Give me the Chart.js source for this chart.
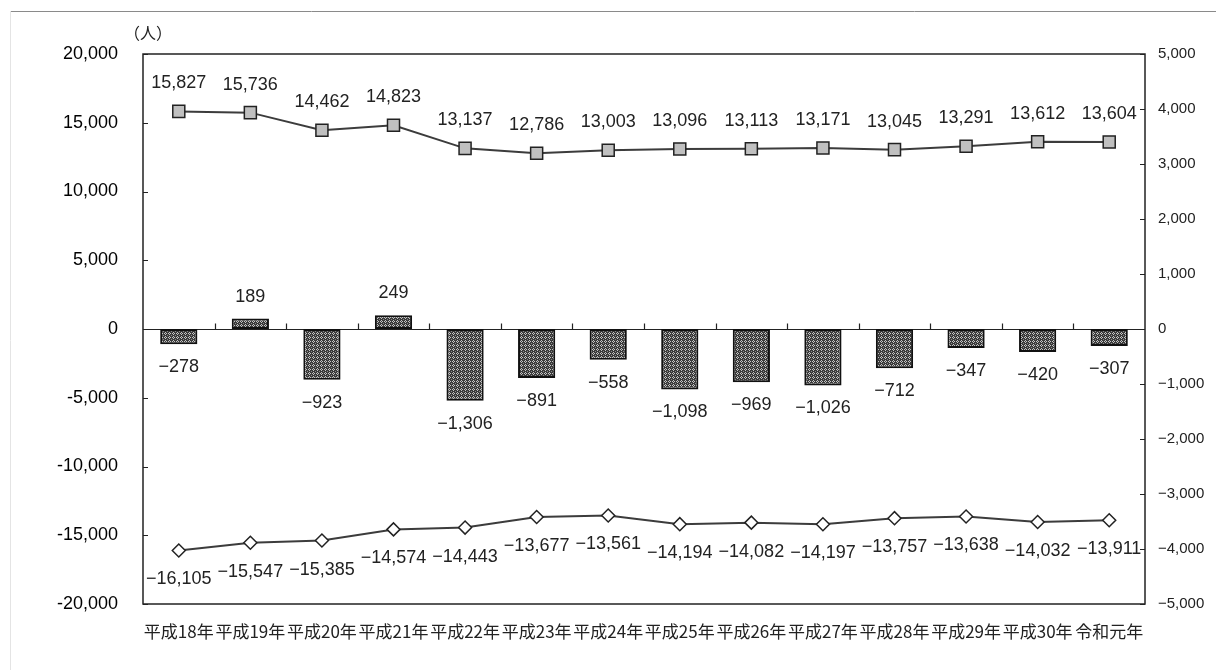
<!DOCTYPE html>
<html>
<head>
<meta charset="utf-8">
<script src="https://cdn.jsdelivr.net/npm/chart.js@4/dist/chart.umd.min.js"></script>
<style>
  html, body { margin: 0; padding: 0; background: #fff; }
  #wrap { width: 1216px; height: 670px; position: relative; }
</style>
</head>
<body>
<div id="wrap"><canvas id="c" width="1216" height="670"></canvas></div>
<script>
// years (x categories)
const years = ['平成18年', '平成19年', '平成20年', '平成21年', '平成22年', '平成23年', '平成24年',
    '平成25年', '平成26年', '平成27年', '平成28年', '平成29年', '平成30年', '令和元年'];
// upper line (left axis)
const inflow = [15827, 15736, 14462, 14823, 13137, 12786, 13003, 13096, 13113, 13171, 13045, 13291, 13612, 13604];
// bars (right axis)
const net = [-278, 189, -923, 249, -1306, -891, -558, -1098, -969, -1026, -712, -347, -420, -307];
// lower line (left axis)
const outflow = [-16105, -15547, -15385, -14574, -14443, -13677, -13561, -14194, -14082, -14197, -13757, -13638, -14032, -13911];

const leftTicks = [20000, 15000, 10000, 5000, 0, -5000, -10000, -15000, -20000];
const rightTicks = [5000, 4000, 3000, 2000, 1000, 0, -1000, -2000, -3000, -4000, -5000];

function fmt(v) {
    return v.toLocaleString('en-US').replace('-', '−');
}

// crosshatch fill for the bars (light rings on dark)
function hatch() {
    const p = document.createElement('canvas');
    p.width = 4; p.height = 4;
    const g = p.getContext('2d');
    g.fillStyle = '#3a3a3a';
    g.fillRect(0, 0, 4, 4);
    g.fillStyle = '#c4c4c4';
    g.fillRect(1, 0, 1, 1);
    g.fillRect(0, 1, 1, 1);
    g.fillRect(2, 1, 1, 1);
    g.fillRect(1, 2, 1, 1);
    g.fillStyle = '#8a8a8a';
    g.fillRect(3, 3, 1, 1);
    return g.createPattern(p, 'repeat');
}

const ctx = document.getElementById('c').getContext('2d');

const framePlugin = {
    id: 'frame',
    beforeDatasetsDraw(chart) {
        const c = chart.ctx, a = chart.chartArea;
        const yl = chart.scales.y, yr = chart.scales.y2;
        c.save();
        // outer frame lines
        c.strokeStyle = '#8a8a8a';
        c.lineWidth = 1;
        c.beginPath();
        c.moveTo(10, 11.5); c.lineTo(1216, 11.5);
        c.stroke();
        c.strokeStyle = '#e4e4e4';
        c.beginPath();
        c.moveTo(10.5, 11); c.lineTo(10.5, 670);
        c.stroke();
        // plot border
        c.strokeStyle = '#222';
        c.lineWidth = 1.5;
        c.strokeRect(a.left, a.top, a.right - a.left, a.bottom - a.top);
        // zero line
        const z = Math.round(yl.getPixelForValue(0)) + 0.5;
        c.lineWidth = 1.2;
        c.beginPath();
        c.moveTo(a.left, z); c.lineTo(a.right, z);
        c.stroke();
        // category ticks on zero line
        const w = (a.right - a.left) / years.length;
        c.beginPath();
        for (let i = 1; i < years.length; i++) {
            const px = Math.round(a.left + i * w) + 0.5;
            c.moveTo(px, z); c.lineTo(px, z - 6);
        }
        // axis ticks (inside)
        leftTicks.forEach(v => {
            const py = Math.round(yl.getPixelForValue(v)) + 0.5;
            c.moveTo(a.left, py); c.lineTo(a.left + 5, py);
        });
        rightTicks.forEach(v => {
            const py = Math.round(yr.getPixelForValue(v)) + 0.5;
            c.moveTo(a.right, py); c.lineTo(a.right - 5, py);
        });
        c.stroke();
        // unit label
        c.fillStyle = '#222';
        c.font = '16px "Noto Sans CJK JP"';
        c.textAlign = 'center';
        c.textBaseline = 'middle';
        c.fillText('（人）', 148, 33);
        c.restore();
    },
    afterDatasetsDraw(chart) {
        const c = chart.ctx;
        c.save();
        c.fillStyle = '#222';
        c.font = '18px "Liberation Sans", Arial, sans-serif';
        c.textAlign = 'center';
        c.textBaseline = 'middle';
        chart.getDatasetMeta(0).data.forEach((pt, i) => {
            c.fillText(fmt(inflow[i]), pt.x, pt.y - 28);
        });
        chart.getDatasetMeta(1).data.forEach((bar, i) => {
            const off = net[i] >= 0 ? -22 : 23;
            c.fillText(fmt(net[i]), bar.x, bar.y + off);
        });
        chart.getDatasetMeta(2).data.forEach((pt, i) => {
            c.fillText(fmt(outflow[i]), pt.x, pt.y + 29);
        });
        c.restore();
    }
};

new Chart(ctx, {
    data: {
        labels: years,
        datasets: [
            {
                type: 'line',
                data: inflow,
                yAxisID: 'y',
                borderColor: '#3c3c3c',
                borderWidth: 2,
                pointStyle: 'rect',
                pointRadius: 8.5,
                pointBackgroundColor: '#c0c0c0',
                pointBorderColor: '#222',
                pointBorderWidth: 1.5,
                tension: 0,
                order: 0
            },
            {
                type: 'bar',
                data: net,
                yAxisID: 'y2',
                backgroundColor: hatch(),
                borderColor: '#111',
                borderWidth: 2,
                borderSkipped: false,
                categoryPercentage: 1,
                barPercentage: 0.52,
                order: 2
            },
            {
                type: 'line',
                data: outflow,
                yAxisID: 'y',
                borderColor: '#3c3c3c',
                borderWidth: 2,
                pointStyle: 'rectRot',
                pointRadius: 6.5,
                pointBackgroundColor: '#fff',
                pointBorderColor: '#222',
                pointBorderWidth: 1.5,
                tension: 0,
                order: 1
            }
        ]
    },
    options: {
        responsive: false,
        animation: false,
        layout: { padding: { top: 54, left: 0, right: 0, bottom: 0 } },
        plugins: { legend: { display: false }, tooltip: { enabled: false } },
        scales: {
            x: {
                offset: true,
                grid: { display: false, drawTicks: false },
                border: { display: false },
                afterFit(s) { s.height = 66; },
                ticks: {
                    padding: 17,
                    color: '#222',
                    maxRotation: 0,
                    autoSkip: false,
                    font: { family: '"Noto Sans CJK JP"', size: 17 }
                }
            },
            y: {
                position: 'left',
                min: -20000,
                max: 20000,
                afterFit(s) { s.width = 143; },
                afterBuildTicks(s) { s.ticks = leftTicks.map(v => ({ value: v })); },
                grid: { display: false, drawTicks: false },
                border: { display: false },
                ticks: {
                    padding: 25,
                    color: '#000',
                    font: { family: '"Liberation Sans", Arial, sans-serif', size: 18 },
                    callback: v => v.toLocaleString('en-US')
                }
            },
            y2: {
                position: 'right',
                min: -5000,
                max: 5000,
                afterFit(s) { s.width = 71; },
                afterBuildTicks(s) { s.ticks = rightTicks.map(v => ({ value: v })); },
                grid: { display: false, drawTicks: false },
                border: { display: false },
                ticks: {
                    padding: 13,
                    color: '#222',
                    font: { family: '"Liberation Sans", Arial, sans-serif', size: 15 },
                    callback: v => fmt(v)
                }
            }
        }
    },
    plugins: [framePlugin]
});
</script>
</body>
</html>
